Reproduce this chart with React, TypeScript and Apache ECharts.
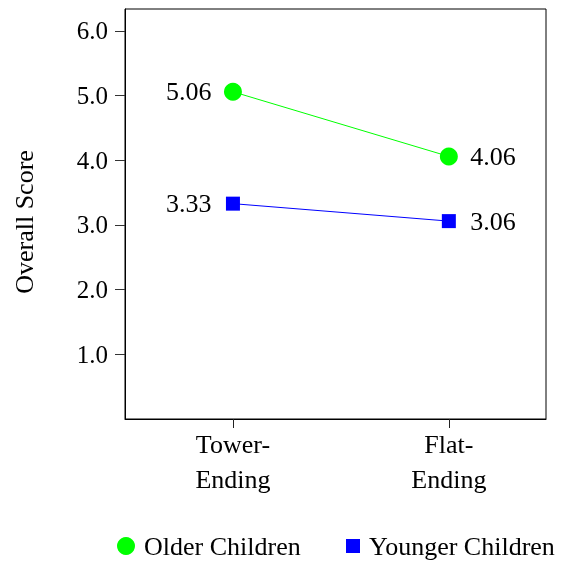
import React, { useEffect, useRef } from "react";
import * as echarts from "echarts";

const categories = ["Tower-\nEnding", "Flat-\nEnding"];
const olderScores = [5.06, 4.06];
const youngerScores = [3.33, 3.06];
const yTickValues = [1, 2, 3, 4, 5, 6];
const seriesNames = ["Older Children", "Younger Children"];
const yAxisTitle = "Overall Score";

const FONT = "'Liberation Serif', 'Times New Roman', Times, serif";

export default function App() {
  const ref = useRef<HTMLDivElement>(null);
  useEffect(() => {
    if (!ref.current) return;
    const chart = echarts.init(ref.current, undefined, { renderer: "svg" });
    const xPos = categories.map((_, i) => i + 1);
    const mkData = (vals: number[], offsets: [number, number]) =>
      vals.map((v, i) => ({
        value: [xPos[i], v],
        label: { position: i === 0 ? "left" : "right", distance: offsets[i] },
      }));
    const labelStyle = {
      show: true,
      fontFamily: FONT,
      fontSize: 26,
      color: "#000",
      formatter: (p: any) => Number(p.value[1]).toFixed(2),
    };
    chart.setOption({
      animation: false,
      textStyle: { fontFamily: FONT },
      grid: {
        left: 125,
        top: 9,
        right: 22,
        bottom: 142,
        show: true,
        borderColor: "#000",
        borderWidth: 1,
        containLabel: false,
      },
      xAxis: {
        type: "value",
        min: 0.5,
        max: 2.45,
        splitLine: { show: false },
        axisLine: { show: true, lineStyle: { color: "#000", width: 1 } },
        axisTick: {
          show: true,
          customValues: xPos,
          length: 9,
          lineStyle: { color: "#222" },
        },
        axisLabel: {
          customValues: xPos,
          formatter: (v: number) => categories[Math.round(v) - 1] ?? "",
          fontFamily: FONT,
          fontSize: 26,
          lineHeight: 35,
          color: "#000",
          margin: 8,
        },
      },
      yAxis: {
        type: "value",
        min: 0,
        max: 6.34,
        splitLine: { show: false },
        axisLine: { show: true, lineStyle: { color: "#000", width: 1 } },
        axisTick: {
          show: true,
          customValues: yTickValues,
          length: 10,
          lineStyle: { color: "#333" },
        },
        axisLabel: {
          customValues: yTickValues,
          formatter: (v: number) => v.toFixed(1),
          fontFamily: FONT,
          fontSize: 25,
          color: "#000",
          margin: 17,
        },
      },
      legend: [
        {
          data: [{ name: seriesNames[0], icon: "circle" }],
          left: 112,
          top: 528,
          itemWidth: 26,
          itemHeight: 18,
          itemGap: 0,
          textStyle: { fontFamily: FONT, fontSize: 26, color: "#000" },
        },
        {
          data: [{ name: seriesNames[1], icon: "path://M0,0h1v1h-1z" }],
          left: 341,
          top: 528,
          itemWidth: 22,
          itemHeight: 14,
          itemGap: 0,
          textStyle: { fontFamily: FONT, fontSize: 26, color: "#000" },
        },
      ],
      graphic: [
        {
          type: "text",
          x: 24,
          y: 222,
          rotation: Math.PI / 2,
          style: {
            text: yAxisTitle,
            fontFamily: FONT,
            fontSize: 26,
            fill: "#000",
            align: "center",
            verticalAlign: "middle",
          },
        },
      ],
      series: [
        {
          name: seriesNames[0],
          type: "line",
          symbol: "circle",
          symbolSize: 18,
          itemStyle: { color: "#00ff00" },
          lineStyle: { color: "#00ff00", width: 1 },
          label: labelStyle,
          data: mkData(olderScores, [12.5, 12.5]),
        },
        {
          name: seriesNames[1],
          type: "line",
          symbol: "rect",
          symbolSize: 14,
          itemStyle: { color: "#0000ff" },
          lineStyle: { color: "#0000ff", width: 1 },
          label: labelStyle,
          data: mkData(youngerScores, [14.5, 14.5]),
        },
      ],
    });
    return () => chart.dispose();
  }, []);
  return (
    <div
      ref={ref}
      style={{ position: "fixed", left: 0, top: 0, width: 568, height: 561 }}
    />
  );
}
